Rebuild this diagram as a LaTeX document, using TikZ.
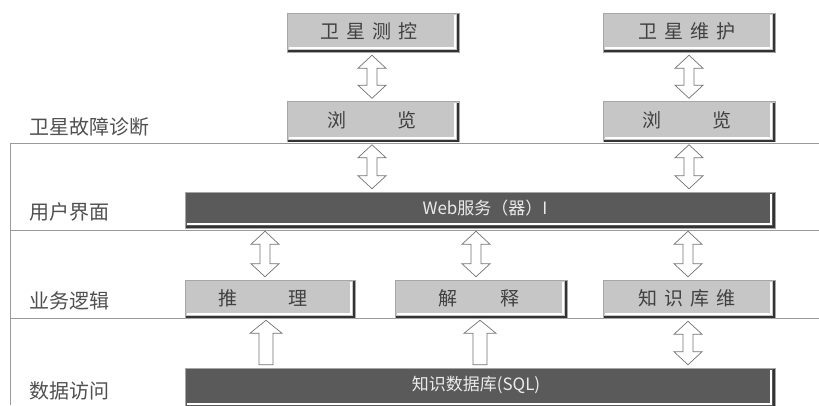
\documentclass[tikz,border=0pt]{standalone}
\usepackage{fontspec}
\setmainfont{Noto Sans CJK SC}
\usetikzlibrary{calc}
\definecolor{lightfill}{HTML}{C6C6C6}
\definecolor{darkfill}{HTML}{5A5A5A}
\definecolor{labelgray}{HTML}{505050}
\definecolor{rulegray}{HTML}{9A9A9A}
\tikzset{
  lightbox/.style={draw=black!35, line width=0.5pt, fill=lightfill, inner sep=0pt,
     font=\fontsize{19}{19}\selectfont, text=black!75},
  darkbar/.style={draw=black!35, line width=0.5pt, fill=darkfill, inner sep=0pt,
     font=\fontsize{17}{17}\selectfont, text=white!92!black},
  layerlabel/.style={anchor=west, inner sep=0pt, font=\fontsize{20}{20}\selectfont, text=labelgray},
  hollow/.style={draw=black!55, line width=0.7pt, fill=white, line join=miter},
  rule/.style={draw=rulegray, line width=0.8pt}
}
\newcommand\bevel[1]{%
  \draw[white, line width=2pt] ([shift={(2pt,4pt)}]#1.south west) -- ([shift={(-4pt,4pt)}]#1.south east) -- ([shift={(-4pt,-2pt)}]#1.north east);
  \draw[black!80, line width=2pt] ([shift={(1.5pt,1pt)}]#1.south west) -- ([shift={(-1pt,1pt)}]#1.south east) -- ([shift={(-1pt,-1.5pt)}]#1.north east);
}
% double hollow arrow: #1 top node, #2 bottom node, #3 node giving x, #4 x shift
\newcommand\dblarrow[4]{%
  \draw[hollow] let \p1=(#1.south), \p2=(#2.north), \p3=(#3.center) in
    (\x3+#4,\y1-3pt) -- (\x3+#4+14pt,\y1-16pt) -- (\x3+#4+5pt,\y1-16pt) -- (\x3+#4+5pt,\y2+16pt)
    -- (\x3+#4+14pt,\y2+16pt) -- (\x3+#4,\y2+3pt) -- (\x3+#4-14pt,\y2+16pt) -- (\x3+#4-5pt,\y2+16pt)
    -- (\x3+#4-5pt,\y1-16pt) -- (\x3+#4-14pt,\y1-16pt) -- cycle;
}
% single hollow up arrow from bottom node #2 to top node #1
\newcommand\uparr[4]{%
  \draw[hollow] let \p1=(#1.south), \p2=(#2.north), \p3=(#3.center) in
    (\x3+#4,\y1-2pt) -- (\x3+#4+16pt,\y1-15pt) -- (\x3+#4+7pt,\y1-15pt) -- (\x3+#4+7pt,\y2+3pt)
    -- (\x3+#4-7pt,\y2+3pt) -- (\x3+#4-7pt,\y1-15pt) -- (\x3+#4-16pt,\y1-15pt) -- cycle;
}
\begin{document}
\begin{tikzpicture}[x=1pt,y=-1pt]
\useasboundingbox (0,0) rectangle (819,405);
\fill[white] (0,0) rectangle (819,405);
% layer rules
\draw[rule] (819,143) -- (10,143) -- (10,405);
\draw[rule] (10,230) -- (819,230);
\draw[rule] (10,318) -- (819,318);
% layer labels
\node[layerlabel] (l1) at (29,127) {卫星故障诊断};
\node[layerlabel] (l2) at (29,212) {用户界面};
\node[layerlabel] (l3) at (29,301) {业务逻辑};
\node[layerlabel] (l4) at (29,391) {数据访问};
% boxes
\node[lightbox, minimum width=172, minimum height=39] (ctrl) at (373,32.5) {};
\node[text=black!75, font=\fontsize{19}{19}\selectfont, inner sep=0pt] (ctrlt) at (369,31) {卫\hspace{7pt}星\hspace{7pt}测\hspace{7pt}控};
\node[lightbox, minimum width=172, minimum height=39] (maint) at (689,32.5) {};
\node[text=black!75, font=\fontsize{19}{19}\selectfont, inner sep=0pt] (maintt) at (687,31) {卫\hspace{7pt}星\hspace{7pt}维\hspace{7pt}护};
\node[lightbox, minimum width=172, minimum height=40] (brL) at (373,121.5) {};
\node[text=black!75, font=\fontsize{19}{19}\selectfont, inner sep=0pt] (brLt) at (372,120) {浏\hspace{51pt}览};
\node[lightbox, minimum width=172, minimum height=40] (brR) at (689,121.5) {};
\node[text=black!75, font=\fontsize{19}{19}\selectfont, inner sep=0pt] (brRt) at (687,120) {浏\hspace{51pt}览};
\node[darkbar, minimum width=590, minimum height=36] (web) at (480,210) {};
\node[text=white!92!black, font=\fontsize{17}{17}\selectfont, inner sep=0pt] (webt) at (485,208) {Web服务（器）I};
\node[lightbox, minimum width=170, minimum height=38] (infer) at (270,299) {};
\node[text=black!75, font=\fontsize{19}{19}\selectfont, inner sep=0pt] (infert) at (263,298) {推\hspace{51pt}理};
\node[lightbox, minimum width=172, minimum height=38] (expl) at (481,299) {};
\node[text=black!75, font=\fontsize{19}{19}\selectfont, inner sep=0pt] (explt) at (479,298) {解\hspace{44pt}释};
\node[lightbox, minimum width=172, minimum height=38] (kbm) at (689,299) {};
\node[text=black!75, font=\fontsize{19}{19}\selectfont, inner sep=0pt] (kbmt) at (687,298) {知\hspace{7pt}识\hspace{7pt}库\hspace{7pt}维};
\node[darkbar, minimum width=590, minimum height=40] (db) at (480,388) {};
\node[text=white!92!black, font=\fontsize{17}{17}\selectfont, inner sep=0pt] (dbt) at (476,385) {知识数据库(SQL)};
% bevels
\bevel{ctrl}\bevel{maint}\bevel{brL}\bevel{brR}\bevel{web}
\bevel{infer}\bevel{expl}\bevel{kbm}\bevel{db}
% arrows
\dblarrow{ctrl}{brL}{ctrl}{-1pt}
\dblarrow{maint}{brR}{maint}{0pt}
\dblarrow{brL}{web}{brL}{-1pt}
\dblarrow{brR}{web}{brR}{0pt}
\dblarrow{web}{infer}{infer}{-5pt}
\dblarrow{web}{expl}{expl}{-5pt}
\dblarrow{web}{kbm}{kbm}{-1pt}
\uparr{infer}{db}{infer}{-4pt}
\uparr{expl}{db}{expl}{-1pt}
\dblarrow{kbm}{db}{kbm}{-1pt}
\end{tikzpicture}
\end{document}
